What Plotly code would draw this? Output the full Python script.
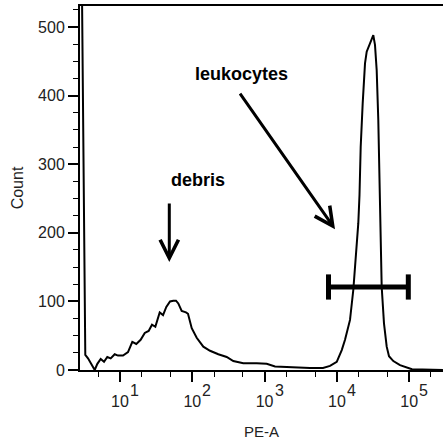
import math
import plotly.graph_objects as go

# PE-A fluorescence (data units) and event counts
pe_values = [2.95, 3.31, 3.61, 4.23, 4.47, 4.86, 5.41, 6.01, 6.67, 7.43,
             8.45, 9.38, 11.0, 12.9, 14.8, 16.8, 19.3, 22.0, 24.9, 27.7,
             30.8, 35.4, 39.4, 43.7, 49.2, 54.6, 59.5, 64.0, 71.3, 81.8,
             87.2, 98.2, 115, 142, 176, 229, 299, 369, 507, 778,
             1069, 1393, 2246, 4243, 6427, 8035, 9950, 11670, 12950, 15180,
             16870, 18380, 19770, 20540, 21330, 22740, 24480, 25830, 30280, 31870,
             33640, 35510, 37380, 38560, 39440, 40330, 41650, 44790, 48840, 52570,
             60310, 74640, 92340, 109300, 293000]
counts = [600, 22, 17, 3, 0, 9, 16, 12, 19, 17,
          23, 21, 21, 26, 41, 38, 44, 54, 57, 66,
          63, 84, 80, 92, 100, 101, 101, 97, 86, 84,
          82, 61, 47, 34, 28, 23, 19, 13, 10, 10,
          9, 5, 4, 3, 3, 6, 12, 29, 44, 73,
          117, 165, 214, 255, 325, 389, 447, 464, 481, 488,
          474, 437, 364, 292, 250, 190, 121, 68, 34, 20,
          13, 7, 3, 1, 0]

# leukocyte gate (interval marker)
gate_x = [7656, 97200]
gate_y = [121, 121]

x_tick_vals = [10, 100, 1000, 10000, 100000]
x_tick_base = ["10", "10", "10", "10", "10"]
x_tick_exp = ["1", "2", "3", "4", "5"]
y_tick_vals = [0, 100, 200, 300, 400, 500]
y_tick_text = ["0", "100", "200", "300", "400", "500"]

FONT = "Arial, Liberation Sans, sans-serif"
TXT = "#222"

fig = go.Figure()
fig.add_trace(go.Scatter(x=pe_values, y=counts, mode="lines",
                         line=dict(color="black", width=2), showlegend=False,
                         hoverinfo="skip"))
fig.add_trace(go.Scatter(x=gate_x, y=gate_y, mode="lines+markers",
                         line=dict(color="black", width=5),
                         marker=dict(symbol="line-ns", size=18,
                                     line=dict(width=5, color="black")),
                         showlegend=False, hoverinfo="skip"))

annotations = [
    dict(text="<b>leukocytes</b>", xref="paper", yref="paper", x=0.446, y=0.846,
         showarrow=False, font=dict(size=18, family=FONT, color="black")),
    dict(text="<b>debris</b>", xref="paper", yref="paper", x=0.245, y=0.522,
         showarrow=False, font=dict(size=18, family=FONT, color="black")),
    dict(text="", xref="paper", yref="paper", x=0.246, y=0.2967,
         showarrow=True, ax=0, ay=-60, arrowhead=5, arrowwidth=3, arrowsize=1.2,
         arrowcolor="black"),
    dict(text="", xref="paper", yref="paper", x=0.7025, y=0.387,
         showarrow=True, ax=-96, ay=-137, arrowhead=5, arrowwidth=3, arrowsize=1.2,
         arrowcolor="black"),
]
# decade exponents, placed as superscripts beside each "10" tick label
for v, e in zip(x_tick_vals, x_tick_exp):
    annotations.append(dict(text=e, xref="x", yref="paper", x=math.log10(v), y=-0.057,
                            xshift=14.5, showarrow=False, xanchor="center", yanchor="middle",
                            font=dict(size=16, family=FONT, color=TXT)))

fig.update_layout(
    width=443, height=446,
    margin=dict(l=80, r=0, t=6, b=76),
    paper_bgcolor="white", plot_bgcolor="white",
    font=dict(family=FONT, color=TXT),
    xaxis=dict(type="log", range=[0.4467, 5.4675],
               tickvals=x_tick_vals, ticktext=x_tick_base,
               ticks="outside", ticklen=10, tickwidth=1.5, tickcolor="black",
               tickfont=dict(size=16, family=FONT, color=TXT),
               ticklabelstandoff=6,
               minor=dict(ticks="outside", ticklen=5, tickwidth=1.2, tickcolor="black", showgrid=False),
               showline=True, linecolor="black", linewidth=2, mirror=True,
               showgrid=False, zeroline=False,
               title=dict(text="PE-A", font=dict(size=15, family=FONT, color=TXT), standoff=17)),
    yaxis=dict(range=[0, 530.6],
               tickvals=y_tick_vals, ticktext=y_tick_text,
               ticks="outside", ticklen=10, tickwidth=1.5, tickcolor="black",
               tickfont=dict(size=16, family=FONT, color=TXT),
               minor=dict(ticks="outside", dtick=25, ticklen=5, tickwidth=1.2, tickcolor="black", showgrid=False),
               showline=True, linecolor="black", linewidth=2,
               showgrid=False, zeroline=False,
               title=dict(text="Count", font=dict(size=16, family=FONT, color=TXT), standoff=10)),
    annotations=annotations,
)

fig.write_html("out.html", config={"displayModeBar": False},
               post_script="document.body.style.margin='0';document.body.style.padding='0';")
